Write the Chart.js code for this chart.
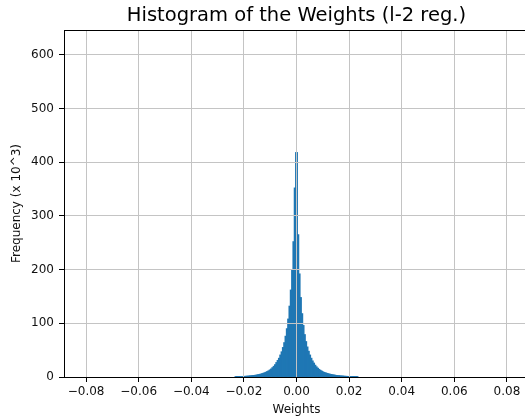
<!DOCTYPE html>
<html>
<head>
<meta charset="utf-8">
<script src="https://cdn.jsdelivr.net/npm/chart.js"></script>
<style>
  html, body { margin: 0; padding: 0; background: #fff; overflow: hidden; }
  canvas { display: block; }
</style>
</head>
<body>
<canvas id="histChart" width="540" height="419"></canvas>
<script>
// Histogram of the weights (l-2 reg.), bin width 0.0005

// bin centres
const binCenters = [
  -0.0230, -0.0225, -0.0220, -0.0215, -0.0210, -0.0205, -0.0200, -0.0195, -0.0190, -0.0185,
  -0.0180, -0.0175, -0.0170, -0.0165, -0.0160, -0.0155, -0.0150, -0.0145, -0.0140, -0.0135,
  -0.0130, -0.0125, -0.0120, -0.0115, -0.0110, -0.0105, -0.0100, -0.0095, -0.0090, -0.0085,
  -0.0080, -0.0075, -0.0070, -0.0065, -0.0060, -0.0055, -0.0050, -0.0045, -0.0040, -0.0035,
  -0.0030, -0.0025, -0.0020, -0.0015, -0.0010, -0.0005,
  0.0000,
  0.0005, 0.0010, 0.0015, 0.0020, 0.0025, 0.0030, 0.0035, 0.0040, 0.0045, 0.0050,
  0.0055, 0.0060, 0.0065, 0.0070, 0.0075, 0.0080, 0.0085, 0.0090, 0.0095, 0.0100,
  0.0105, 0.0110, 0.0115, 0.0120, 0.0125, 0.0130, 0.0135, 0.0140, 0.0145, 0.0150,
  0.0155, 0.0160, 0.0165, 0.0170, 0.0175, 0.0180, 0.0185, 0.0190, 0.0195, 0.0200,
  0.0205, 0.0210, 0.0215, 0.0220, 0.0225, 0.0230
];

// counts in thousands
const counts = [
  0.3, 0.5, 0.6, 0.8, 0.9, 1.0, 1.2, 1.3, 1.5, 1.7,
  1.9, 2.1, 2.4, 2.7, 3.0, 3.4, 3.8, 4.3, 4.9, 5.5,
  6.2, 7.0, 8.0, 9.0, 10.2, 11.6, 13.2, 15, 17.5, 20,
  23, 27, 31, 35, 41, 47, 55, 64, 76, 90,
  108, 132, 162, 200, 252, 352,
  418,
  265, 192, 148, 118, 96, 79, 66, 56, 48, 41,
  35, 30, 26, 22, 19, 16.5, 14.3, 12.5, 11, 9.7,
  8.6, 7.7, 6.9, 6.2, 5.5, 4.9, 4.4, 3.9, 3.5, 3.1,
  2.8, 2.5, 2.2, 2.0, 1.8, 1.6, 1.4, 1.3, 1.1, 1.0,
  0.9, 0.8, 0.6, 0.5, 0.4, 0.3
];

const xTicks = [-0.08, -0.06, -0.04, -0.02, 0, 0.02, 0.04, 0.06, 0.08];
const yTicks = [0, 100, 200, 300, 400, 500, 600];

const FONT = "'DejaVu Sans', sans-serif";
const gridColor = '#c4c4c4';

// top and right spines (matplotlib box)
const boxPlugin = {
  id: 'box',
  afterDraw(chart) {
    const { ctx, chartArea: a } = chart;
    ctx.save();
    ctx.strokeStyle = '#000';
    ctx.lineWidth = 1;
    ctx.beginPath();
    ctx.moveTo(a.left, a.top + 0.5);
    ctx.lineTo(a.right, a.top + 0.5);
    ctx.moveTo(a.right - 0.5, a.top);
    ctx.lineTo(a.right - 0.5, a.bottom);
    ctx.stroke();
    ctx.restore();
  }
};

const ctx = document.getElementById('histChart').getContext('2d');
const histChart = new Chart(ctx, {
  type: 'bar',
  data: {
    datasets: [{
      label: 'Weights',
      data: binCenters.map((x, i) => ({ x: x, y: counts[i] })),
      backgroundColor: '#1f77b4',
      borderWidth: 0,
      inflateAmount: 0.4,
      barPercentage: 1.6, // overlap a little so no seams show between bins
      categoryPercentage: 1
    }]
  },
  options: {
    responsive: false,
    animation: false,
    devicePixelRatio: 1,
    layout: { padding: { left: 0, right: 11, top: 0, bottom: 0 } },
    plugins: {
      legend: { display: false },
      tooltip: { enabled: false },
      title: {
        display: true,
        fullSize: false,
        text: 'Histogram of the Weights (l-2 reg.)',
        color: '#000',
        font: { family: FONT, size: 19.5, weight: 'normal' },
        padding: { top: 4, bottom: 2.6 }
      }
    },
    scales: {
      x: {
        type: 'linear',
        min: -0.0884,
        max: 0.0884,
        offset: false,
        afterFit: (s) => { s.height = 42; },
        afterBuildTicks: (s) => { s.ticks = xTicks.map(v => ({ value: v })); },
        grid: { color: gridColor, lineWidth: 1, tickColor: '#000', tickLength: 5, offset: false, z: 1 },
        border: { color: '#000', width: 1, z: 2 },
        ticks: {
          color: '#111',
          font: { family: FONT, size: 12 },
          padding: 3,
          maxRotation: 0,
          callback: (v) => v.toFixed(2).replace('-', '\u2212')
        },
        title: {
          display: true,
          text: 'Weights',
          color: '#111',
          font: { family: FONT, size: 12 },
          padding: { top: 0, bottom: 2 }
        }
      },
      y: {
        min: 0,
        max: 646,
        afterFit: (s) => { s.width = 64; },
        afterBuildTicks: (s) => { s.ticks = yTicks.map(v => ({ value: v })); },
        grid: { color: gridColor, lineWidth: 1, tickColor: '#000', tickLength: 5, z: 1 },
        border: { color: '#000', width: 1, z: 2 },
        ticks: {
          color: '#111',
          font: { family: FONT, size: 12 },
          padding: 5
        },
        title: {
          display: true,
          text: 'Frequency (x 10^3)',
          color: '#111',
          font: { family: FONT, size: 12 },
          padding: { top: 10, bottom: 0 }
        }
      }
    }
  },
  plugins: [boxPlugin]
});
</script>
</body>
</html>
